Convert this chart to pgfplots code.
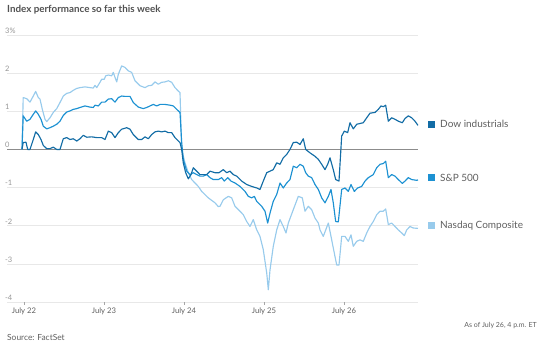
\documentclass[border=0pt]{standalone}
\usepackage{pgfplots}
\pgfplotsset{compat=1.18}
\usepackage{fontspec}
\setmainfont{Lato}
\definecolor{dowc}{RGB}{18,108,165}
\definecolor{spc}{RGB}{28,145,210}
\definecolor{nasc}{RGB}{152,203,236}
\definecolor{gridc}{RGB}{232,232,232}
\definecolor{zeroc}{RGB}{140,140,140}
\definecolor{labc}{RGB}{150,150,150}
\definecolor{txtc}{RGB}{95,95,95}
\begin{document}
\begin{tikzpicture}
\useasboundingbox (0,0) rectangle (547pt,351pt);
\node[anchor=west, inner sep=0pt, font=\fontsize{9.8}{11}\selectfont\bfseries, text=txtc!85!black] at (7pt,341pt) {Index performance so far this week};
\node[anchor=west, inner sep=0pt, font=\fontsize{8.4}{10}\selectfont, text=txtc] at (7pt,13.5pt) {Source: FactSet};
\node[anchor=east, inner sep=0pt, font=\fontsize{7}{8}\selectfont, text=txtc] at (537pt,25.5pt) {As of July 26, 4 p.m. ET};
\begin{axis}[
  at={(7pt,49pt)}, anchor=south west,
  scale only axis, width=411pt, height=267pt,
  xmin=-0.2125, xmax=4.925, ymin=-4, ymax=3,
  clip=false,
  axis line style={draw=none},
  xtick={0,1,2,3,4},
  xticklabels={July 22,July 23,July 24,July 25,July 26},
  xtick pos=bottom, tick align=outside, major tick length=3pt,
  xtick style={draw=gray!70, line width=0.6pt},
  xticklabel style={font=\fontsize{7.7}{9}\selectfont, text=txtc, yshift=1pt},
  ytick={-4,-3,-2,-1,0,1,2,3},
  yticklabels={-4,-3,-2,-1,0,1,2,3\%},
  ytick pos=left,
  ytick style={draw=none},
  yticklabel style={anchor=south west, inner sep=0pt, xshift=1pt, yshift=1.5pt, font=\fontsize{7.5}{9}\selectfont, text=labc},
  ymajorgrids, grid style={draw=gridc, line width=0.7pt},
  extra y ticks={0}, extra y tick labels={},
  extra y tick style={grid style={draw=zeroc, line width=0.9pt}},
  every axis plot/.append style={line width=1.15pt, line join=round, no markers},
]
% Nasdaq Composite
\addplot[nasc] coordinates {
(-0.025,0) (-0.01,1.36) (0.034,1.33) (0.075,1.24) (0.116,1.40) (0.146,1.52) (0.179,1.36) (0.20,1.32) (0.229,1.05) (0.2625,0.79) (0.284,0.73) (0.325,0.83) (0.366,0.97) (0.409,1.07) (0.45,1.23) (0.491,1.40) (0.534,1.47) (0.575,1.49) (0.616,1.55) (0.659,1.60) (0.70,1.62) (0.7625,1.64) (0.825,1.62) (0.866,1.61) (0.8875,1.68) (0.909,1.62) (0.95,1.76) (0.971,1.84) (1.004,1.84) (1.021,1.93) (1.054,1.95) (1.096,1.93) (1.116,2.02) (1.1375,1.89) (1.159,1.77) (1.179,1.97) (1.221,2.19) (1.2625,2.15) (1.304,2.06) (1.346,2.02) (1.3875,1.80) (1.45,1.67) (1.5125,1.62) (1.554,1.67) (1.596,1.68) (1.6375,1.77) (1.679,1.71) (1.721,1.76) (1.7625,1.77) (1.804,1.80) (1.846,1.76) (1.8875,1.62) (1.929,1.53) (1.95,1.49) (1.971,0) (2.0125,-0.35) (2.054,-0.61) (2.096,-0.79) (2.179,-0.97) (2.221,-1.10) (2.304,-1.27) (2.3875,-1.40) (2.429,-1.50) (2.45,-1.49) (2.491,-1.32) (2.554,-1.23) (2.596,-1.27) (2.6375,-1.49) (2.70,-1.62) (2.741,-1.71) (2.784,-1.89) (2.825,-2.02) (2.866,-1.84) (2.909,-2.11) (2.95,-2.28) (2.991,-2.63) (3.034,-3.24) (3.054,-3.68) (3.075,-3.16) (3.116,-2.54) (3.159,-2.11) (3.20,-1.84) (3.241,-2.02) (3.275,-2.19) (3.304,-1.93) (3.366,-1.58) (3.429,-1.23) (3.479,-1.27) (3.5125,-1.62) (3.554,-1.49) (3.596,-1.58) (3.6375,-1.80) (3.679,-1.93) (3.70,-2.11) (3.741,-2.28) (3.804,-1.93) (3.846,-2.37) (3.8875,-2.81) (3.909,-3.03) (3.9375,-3.03) (3.971,-2.28) (4.0125,-2.28) (4.054,-2.41) (4.0875,-2.24) (4.116,-2.54) (4.159,-2.41) (4.20,-2.37) (4.241,-2.41) (4.284,-2.19) (4.325,-2.02) (4.366,-1.89) (4.409,-1.71) (4.45,-1.62) (4.491,-1.62) (4.521,-1.56) (4.554,-1.97) (4.596,-1.93) (4.6375,-2.02) (4.679,-2.11) (4.721,-2.19) (4.754,-2.26) (4.784,-2.11) (4.825,-2.02) (4.866,-2.06) (4.925,-2.07)
};
% S&P 500
\addplot[spc] coordinates {
(-0.025,0) (-0.01,0.88) (0.034,0.74) (0.075,0.79) (0.116,0.92) (0.146,1.01) (0.179,0.92) (0.2125,0.79) (0.241,0.61) (0.284,0.54) (0.325,0.57) (0.366,0.61) (0.409,0.66) (0.45,0.74) (0.491,0.89) (0.534,0.98) (0.575,1.01) (0.616,1.05) (0.659,1.07) (0.70,1.10) (0.7625,1.14) (0.825,1.11) (0.866,1.10) (0.8875,1.16) (0.929,1.14) (0.971,1.24) (1.0125,1.24) (1.054,1.32) (1.096,1.33) (1.1375,1.24) (1.179,1.36) (1.221,1.40) (1.2625,1.39) (1.325,1.39) (1.366,1.23) (1.429,1.11) (1.491,1.07) (1.534,1.10) (1.575,1.14) (1.616,1.18) (1.659,1.14) (1.70,1.18) (1.7625,1.18) (1.825,1.16) (1.866,1.14) (1.909,1.05) (1.95,0.97) (1.971,0.18) (1.991,-0.26) (2.034,-0.57) (2.075,-0.66) (2.116,-0.61) (2.159,-0.66) (2.20,-0.70) (2.241,-0.70) (2.284,-0.66) (2.325,-0.74) (2.366,-0.79) (2.429,-0.79) (2.471,-0.74) (2.504,-0.83) (2.546,-0.74) (2.5875,-0.83) (2.6375,-0.88) (2.70,-0.97) (2.7625,-1.10) (2.804,-1.23) (2.846,-1.27) (2.879,-1.23) (2.909,-1.36) (2.971,-1.49) (3.0125,-1.62) (3.046,-1.93) (3.075,-1.67) (3.116,-1.36) (3.159,-1.18) (3.20,-0.88) (3.241,-1.01) (3.284,-0.88) (3.325,-0.79) (3.366,-0.44) (3.409,-0.48) (3.45,-0.39) (3.491,-0.44) (3.521,-0.61) (3.554,-0.70) (3.596,-0.74) (3.6375,-0.92) (3.679,-1.05) (3.721,-1.27) (3.7625,-1.40) (3.804,-1.23) (3.8375,-1.05) (3.866,-1.40) (3.896,-1.89) (3.929,-1.90) (3.971,-1.05) (4.0125,-1.01) (4.054,-1.10) (4.0875,-0.92) (4.129,-1.10) (4.171,-1.01) (4.221,-0.97) (4.2625,-0.83) (4.304,-0.74) (4.366,-0.66) (4.409,-0.48) (4.45,-0.39) (4.491,-0.37) (4.521,-0.31) (4.554,-0.74) (4.596,-0.66) (4.6375,-0.70) (4.679,-0.79) (4.729,-0.89) (4.7625,-0.83) (4.804,-0.74) (4.846,-0.79) (4.909,-0.81) (4.925,-0.80)
};
% Dow industrials
\addplot[dowc] coordinates {
(-0.025,0) (-0.01,0.18) (0.025,0.19) (0.046,0) (0.075,0) (0.116,0.26) (0.146,0.46) (0.179,0.39) (0.2125,0.26) (0.241,0.105) (0.284,0.02) (0.325,0.02) (0.366,0.06) (0.409,0) (0.45,0) (0.491,0.28) (0.534,0.31) (0.575,0.26) (0.616,0.28) (0.659,0.22) (0.70,0.28) (0.741,0.37) (0.784,0.32) (0.846,0.33) (0.909,0.31) (0.971,0.31) (1.0125,0.26) (1.054,0.48) (1.096,0.44) (1.1375,0.31) (1.179,0.44) (1.221,0.53) (1.284,0.57) (1.325,0.53) (1.366,0.39) (1.429,0.26) (1.471,0.26) (1.5125,0.33) (1.554,0.28) (1.596,0.39) (1.6375,0.46) (1.679,0.48) (1.721,0.46) (1.7625,0.48) (1.804,0.44) (1.846,0.44) (1.8875,0.31) (1.95,0.18) (1.971,0) (1.991,-0.35) (2.021,-0.61) (2.054,-0.77) (2.0875,-0.66) (2.116,-0.48) (2.159,-0.57) (2.20,-0.66) (2.241,-0.66) (2.284,-0.66) (2.325,-0.57) (2.3875,-0.61) (2.4375,-0.61) (2.491,-0.53) (2.534,-0.61) (2.575,-0.57) (2.616,-0.66) (2.659,-0.70) (2.721,-0.83) (2.784,-0.92) (2.846,-0.97) (2.909,-1.01) (2.95,-1.05) (2.991,-0.83) (3.034,-0.61) (3.075,-0.57) (3.116,-0.53) (3.159,-0.35) (3.20,-0.39) (3.241,-0.22) (3.284,-0.13) (3.325,0) (3.366,0.18) (3.409,0.19) (3.45,0.13) (3.491,0.28) (3.521,0) (3.575,-0.09) (3.6375,-0.18) (3.679,-0.26) (3.721,-0.39) (3.7625,-0.53) (3.796,-0.39) (3.825,-0.22) (3.866,-0.53) (3.896,-0.79) (3.9375,-0.83) (3.971,0.35) (4.004,0.48) (4.046,0.44) (4.075,0.70) (4.116,0.54) (4.159,0.66) (4.20,0.68) (4.241,0.70) (4.284,0.83) (4.325,0.95) (4.3875,0.97) (4.429,1.05) (4.4625,1.14) (4.491,1.12) (4.521,1.16) (4.554,0.74) (4.596,0.83) (4.6375,0.79) (4.679,0.74) (4.729,0.70) (4.7625,0.81) (4.804,0.88) (4.846,0.83) (4.8875,0.74) (4.925,0.63)
};
\node[anchor=west, inner sep=0pt, xshift=10pt, font=\fontsize{10}{11}\selectfont, text=txtc] at (axis cs:4.925,0.66) {\textcolor{dowc}{\rule[-0.3pt]{7pt}{7pt}}\hspace{5pt}Dow industrials};
\node[anchor=west, inner sep=0pt, xshift=10pt, font=\fontsize{10}{11}\selectfont, text=txtc] at (axis cs:4.925,-0.74) {\textcolor{spc}{\rule[-0.3pt]{7pt}{7pt}}\hspace{5pt}S\&P 500};
\node[anchor=west, inner sep=0pt, xshift=10pt, font=\fontsize{10}{11}\selectfont, text=txtc] at (axis cs:4.925,-2.0) {\textcolor{nasc}{\rule[-0.3pt]{7pt}{7pt}}\hspace{5pt}Nasdaq Composite};
\end{axis}
\end{tikzpicture}
\end{document}
